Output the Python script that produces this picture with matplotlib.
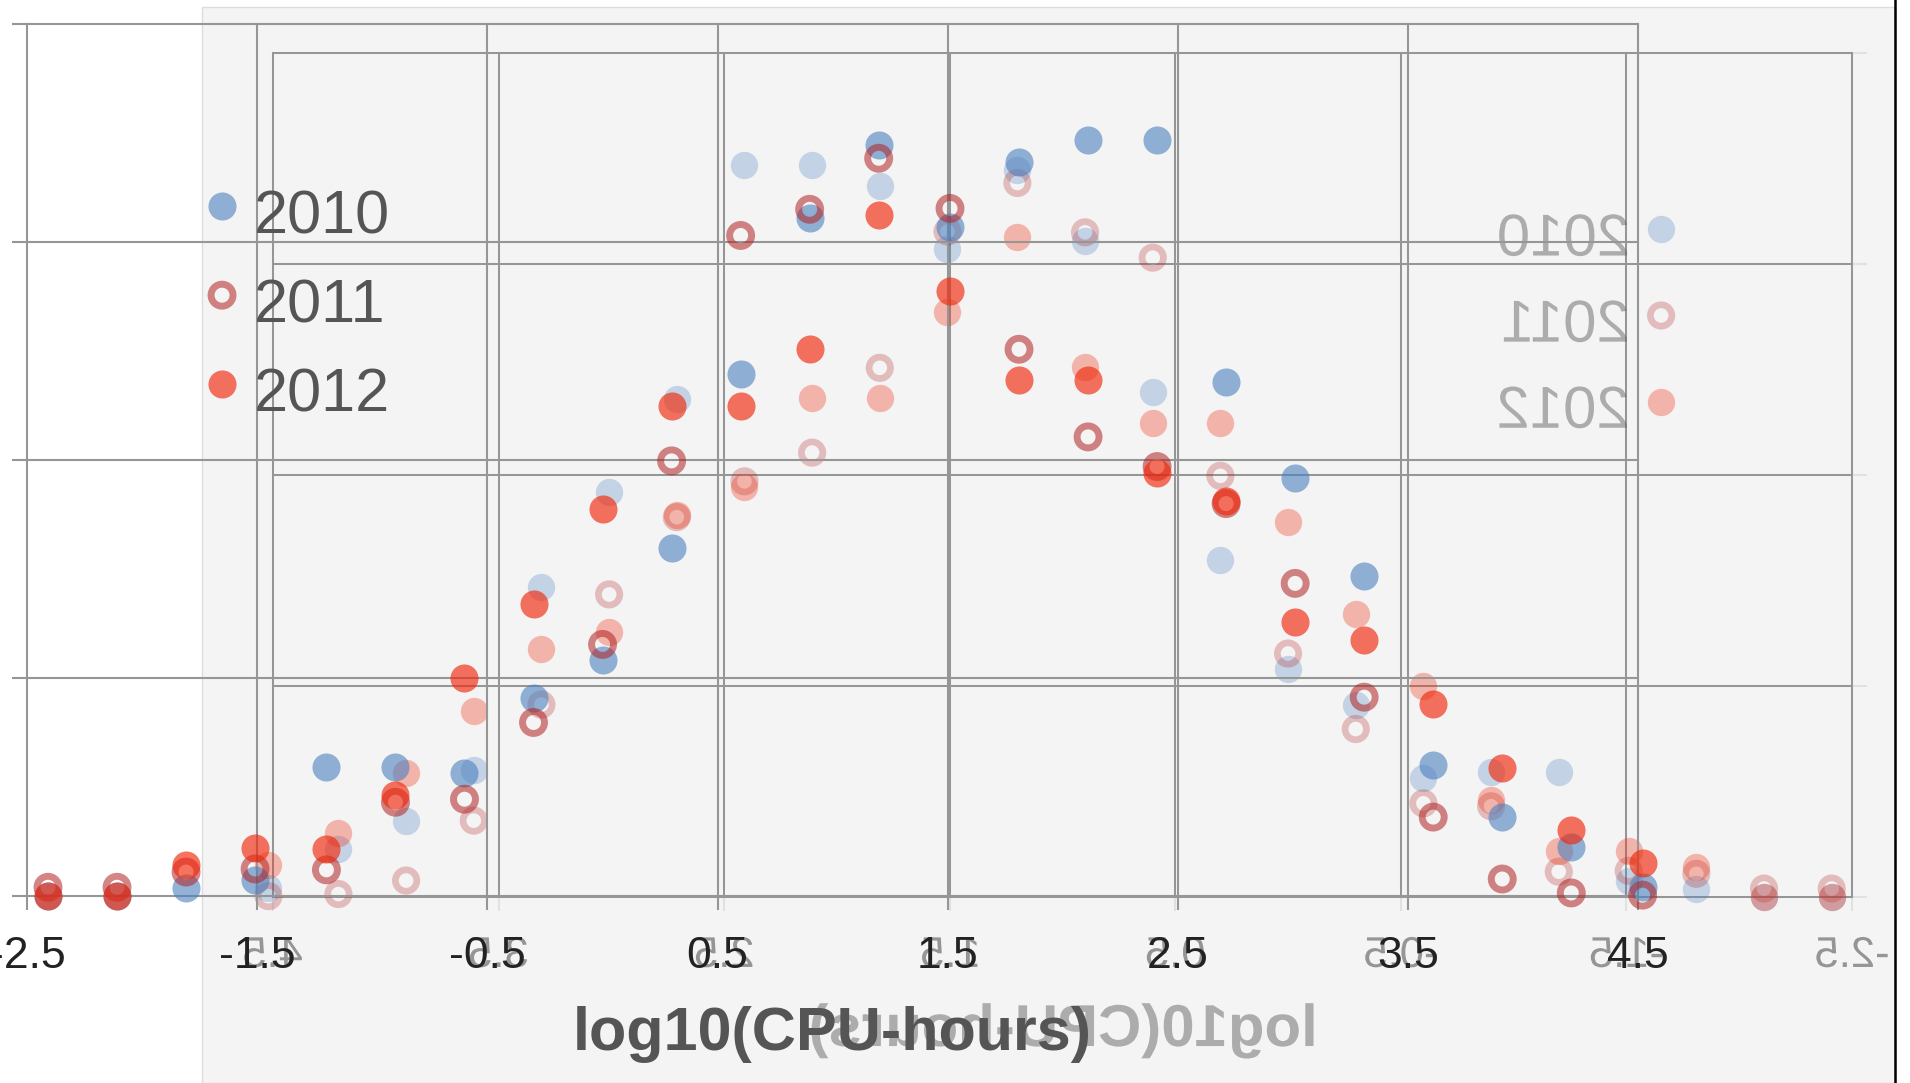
import matplotlib
matplotlib.use("Agg")
import matplotlib.pyplot as plt
from matplotlib.lines import Line2D
from matplotlib.patches import PathPatch, Rectangle
from matplotlib.textpath import TextPath
from matplotlib.transforms import Affine2D

plt.rcParams["font.family"] = ["Liberation Sans", "DejaVu Sans"]

# one bin per power of two of CPU-hours, x = log10 of the bin
log_cpu_hours = [-2.41, -2.11, -1.81, -1.51, -1.20, -0.90, -0.60, -0.30, 0.00, 0.30, 0.60, 0.90,
                 1.20, 1.51, 1.81, 2.11, 2.41, 2.71, 3.01, 3.31, 3.61, 3.91, 4.21, 4.52]
share_2010 = [0.0, 0.0, 0.18, 0.37, 2.97, 2.97, 2.81, 4.55, 5.41, 7.99, 11.97, 15.54,
              17.23, 15.35, 16.84, 17.35, 17.35, 11.79, 9.59, 7.35, 3.00, 1.81, 1.13, 0.21]
share_2011 = [0.2, 0.2, 0.55, 0.62, 0.60, 2.15, 2.22, 3.98, 5.77, 9.98, 15.15, 15.75,
              16.92, 15.77, 12.54, 10.53, 9.85, 9.00, 7.17, 4.56, 1.81, 0.39, 0.07, 0.02]
share_2012 = [0.0, 0.0, 0.71, 1.10, 1.08, 2.31, 4.99, 6.70, 8.88, 11.23, 11.23, 12.55,
              15.63, 13.87, 11.83, 11.83, 9.71, 9.06, 6.28, 5.87, 4.41, 2.93, 1.51, 0.75]
years = ["2010", "2011", "2012"]
shares = [share_2010, share_2011, share_2012]

x_ticks = [-2.5, -1.5, -0.5, 0.5, 1.5, 2.5, 3.5, 4.5]
x_tick_labels = ["-2.5", "-1.5", "-0.5", "0.5", "1.5", "2.5", "3.5", "4.5"]
y_ticks = [0, 5, 10, 15, 20]

series_style = {
    "2010": dict(color=(75 / 255, 128 / 255, 190 / 255), alpha=0.6, filled=True),
    "2011": dict(color=(178 / 255, 34 / 255, 34 / 255), alpha=0.55, filled=False),
    "2012": dict(color=(240 / 255, 40 / 255, 10 / 255), alpha=0.65, filled=True),
}

W, H = 1910, 1083
GRID = (0.59, 0.59, 0.59)
LEGEND_X = 0.1209
LEGEND_Y = [0.791, 0.689, 0.587]
GHOST_FADE = 0.48
TEXT_FADE = 0.45


def px_box(left, top, right, bottom):
    return [left / W, (H - bottom) / H, (right - left) / W, (bottom - top) / H]


def draw_marker(ax, xs, ys, style, scale, fade, transform, zorder=3):
    if style["filled"]:
        ax.scatter(xs, ys, s=(20.2 * scale) ** 2, color=style["color"], alpha=style["alpha"] * fade,
                   linewidths=0, transform=transform, clip_on=False, zorder=zorder)
    else:
        ax.scatter(xs, ys, s=(15.8 * scale) ** 2, facecolors="none", edgecolors=style["color"],
                   linewidths=5 * scale, alpha=style["alpha"] * fade, transform=transform,
                   clip_on=False, zorder=zorder)


def setup_axes(ax, grid_color, scale, mirrored):
    for spine in ax.spines.values():
        spine.set_visible(False)
    ax.set_facecolor("none")
    ax.set_xticks(x_ticks)
    ax.set_yticks(y_ticks)
    ax.set_xlim(4.5, -2.5) if mirrored else ax.set_xlim(-2.5, 4.5)
    ax.set_ylim(0, 20)
    ax.set_axisbelow(True)
    ax.grid(True, color=grid_color, linewidth=1.5 * scale)
    ax.tick_params(axis="x", direction="out", length=10 * scale, width=1.5 * scale, color=grid_color)
    ax.tick_params(axis="y", direction="out", length=11 * scale, width=1.5 * scale, color=grid_color,
                   labelleft=False, labelright=False)
    if mirrored:
        ax.yaxis.tick_right()
        ax.tick_params(axis="y", labelright=False)
    for tick in ax.xaxis.get_major_ticks() + ax.yaxis.get_major_ticks():
        tick.gridline.set_clip_on(False)


def draw_series(ax, scale=1.0, fade=1.0, mirrored=False):
    for i, (year, values) in enumerate(zip(years, shares)):
        style = series_style[year]
        draw_marker(ax, log_cpu_hours, values, style, scale, fade, ax.transData)
        lx = 1 - LEGEND_X if mirrored else LEGEND_X
        draw_marker(ax, [lx], [LEGEND_Y[i]], style, scale, fade, ax.transAxes, zorder=4)


def mirror_texts(fig, ax, ax_g, texts, fade):
    # redraw the given texts as flipped glyph outlines inside the reflected axes
    renderer = fig.canvas.get_renderer()
    bf = ax.get_window_extent(renderer)
    bg = ax_g.get_window_extent(renderer)
    sx = bg.width / bf.width
    sy = bg.height / bf.height
    for t in texts:
        s = t.get_text()
        if not s:
            continue
        prop = t.get_fontproperties()
        bb = t.get_window_extent(renderer)
        _, _, d_lp = renderer.get_text_width_height_descent("lp", prop, ismath=False)
        _, _, d_s = renderer.get_text_width_height_descent(s, prop, ismath=False)
        baseline = bb.y0 + max(d_lp, d_s)
        cx = (bb.x0 + bb.x1) / 2
        size_px = prop.get_size_in_points() * fig.dpi / 72
        path = TextPath((0, 0), s, size=size_px, prop=prop)
        ext = path.get_extents()
        tr = (Affine2D().translate(-(ext.x0 + ext.x1) / 2, 0).scale(-sx, sy)
              .translate(bg.x1 - (cx - bf.x0) * sx, bg.y0 + (baseline - bf.y0) * sy))
        fig.add_artist(PathPatch(path, transform=tr, facecolor=t.get_color(), edgecolor="none",
                                 alpha=fade, zorder=1.5))


fig = plt.figure(figsize=(W / 100, H / 100), dpi=100, facecolor="white")

# grey panel behind the reflection
fig.add_artist(Rectangle((202 / W, 0), (1895 - 202) / W, (H - 7) / H, transform=fig.transFigure,
                         facecolor="#f4f4f4", edgecolor="#dcdcdc", linewidth=1, zorder=0.5))
fig.add_artist(Line2D([1895 / W, 1895 / W], [0, 1], transform=fig.transFigure,
                      color="black", linewidth=1.8, zorder=5))

# faded mirror copy
ghost_scale = 0.974
ax_g = fig.add_axes(px_box(273, 53, 1852, 897))
ax_g.set_zorder(1)
setup_axes(ax_g, GRID + (0.2,), ghost_scale, mirrored=True)
ax_g.tick_params(axis="x", labelbottom=False)
draw_series(ax_g, scale=ghost_scale, fade=GHOST_FADE, mirrored=True)

# main chart
ax = fig.add_axes(px_box(27.3, 24, 1638, 896))
ax.set_zorder(3)
setup_axes(ax, GRID, 1.0, mirrored=False)
ax.set_xticklabels(x_tick_labels)
ax.tick_params(axis="x", pad=19, labelsize=32, labelcolor="#222222")
draw_series(ax)

ax.set_xlabel("log10(CPU-hours)", fontsize=44, fontweight="bold", color="#555555")
ax.xaxis.set_label_coords(0.5, -0.1766)
ax.xaxis.label.set_va("baseline")

legend_texts = []
for i, year in enumerate(years):
    legend_texts.append(ax.text(0.1407, LEGEND_Y[i] - 0.031, year, transform=ax.transAxes,
                                fontsize=44, color="#555555", ha="left", va="baseline"))

fig.canvas.draw()
mirror_texts(fig, ax, ax_g, ax.get_xticklabels() + [ax.xaxis.label] + legend_texts, TEXT_FADE)

fig.savefig("out.png", dpi=100)
